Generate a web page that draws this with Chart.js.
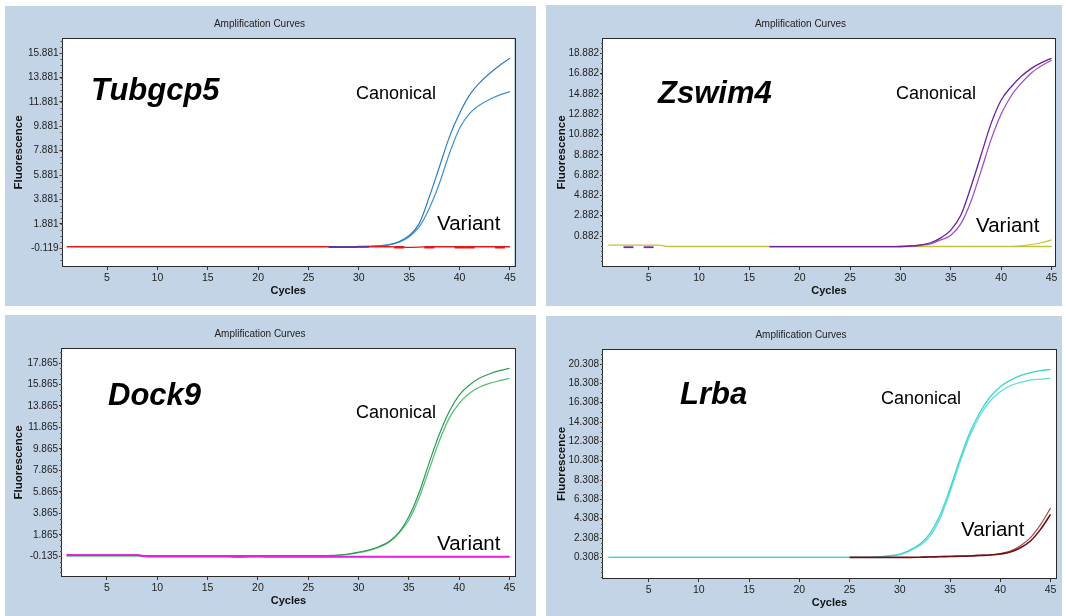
<!DOCTYPE html>
<html lang="en">
<head>
<meta charset="UTF-8">
<title>Amplification Curves</title>
<script src="https://cdn.jsdelivr.net/npm/chart.js"></script>
<style>
  body { margin: 0; background: #fff; width: 1066px; height: 616px; position: relative; overflow: hidden; }
  .panel { position: absolute; background: #c3d4e6; }
  .panel canvas { position: absolute; left: 0; top: 0; }
  .note { position: absolute; font-family: "Liberation Sans", Arial, sans-serif; color: #000; line-height: 1; transform: translateY(-50%); white-space: nowrap; }
  .gene { font-weight: bold; font-style: italic; font-size: 31px; }
  .canon { font-size: 18px; }
  .variant { font-size: 20.5px; }
</style>
</head>
<body>

<div class="panel" style="left:5px;top:6px;width:531px;height:300px">
  <canvas id="tubChart" width="531" height="300"></canvas>
  <div class="note gene" style="left:86px;top:83px">Tubgcp5</div>
  <div class="note canon" style="left:351px;top:87px">Canonical</div>
  <div class="note variant" style="left:432px;top:217px">Variant</div>
</div>

<div class="panel" style="left:546px;top:5px;width:516px;height:301px">
  <canvas id="zswChart" width="516" height="301"></canvas>
  <div class="note gene" style="left:112px;top:87px">Zswim4</div>
  <div class="note canon" style="left:350px;top:88px">Canonical</div>
  <div class="note variant" style="left:430px;top:220px">Variant</div>
</div>

<div class="panel" style="left:5px;top:315px;width:531px;height:301px">
  <canvas id="dockChart" width="531" height="301"></canvas>
  <div class="note gene" style="left:103px;top:79px">Dock9</div>
  <div class="note canon" style="left:351px;top:97px">Canonical</div>
  <div class="note variant" style="left:432px;top:228px">Variant</div>
</div>

<div class="panel" style="left:546px;top:316px;width:516px;height:300px">
  <canvas id="lrbChart" width="516" height="300"></canvas>
  <div class="note gene" style="left:134px;top:77px">Lrba</div>
  <div class="note canon" style="left:335px;top:82px">Canonical</div>
  <div class="note variant" style="left:415px;top:213px">Variant</div>
</div>

<script>
// x axis ticks shared by all four plots
const cycleTicks = [5, 10, 15, 20, 25, 30, 35, 40, 45];

// --- Tubgcp5 ---
const tubTicks = [-0.119, 1.881, 3.881, 5.881, 7.881, 9.881, 11.881, 13.881, 15.881];
const tubCanonHighStart = 30;
const tubCanonHigh = [0.00, 0.03, 0.08, 0.17, 0.42, 0.92, 1.92, 4.11, 6.57, 9.04, 10.95, 12.46, 13.47, 14.24, 14.90, 15.47];
const tubCanonLowStart = 30;
const tubCanonLow = [0.00, 0.02, 0.07, 0.15, 0.38, 0.82, 1.65, 3.16, 5.21, 7.67, 9.72, 10.95, 11.64, 12.10, 12.46, 12.73];
const tubOtherStart = 27;
const tubOther = [-0.02, -0.02, -0.02, -0.01, 0.00];
const tubVariantStart = 1;
const tubVariant = [0, 0, 0, 0, 0, 0, 0, 0, 0, 0, 0, 0, 0, 0, 0, 0, 0, 0, 0, 0, 0, 0, 0, 0, 0, 0, 0, 0, 0, 0, 0, 0, 0,
  -0.02, -0.05, -0.03, 0, 0, 0, 0, 0, 0, 0, 0, 0];
const tubBlipCycles = [34, 37, 40, 41, 44];
const tubBlipValues = [-0.05, -0.05, -0.04, -0.04, -0.05];

// --- Zswim4 ---
const zswTicks = [0.882, 2.882, 4.882, 6.882, 8.882, 10.882, 12.882, 14.882, 16.882, 18.882];
const zswCanonEarlyStart = 17;
const zswCanonEarly = [-0.17, -0.17, -0.17, -0.17, -0.17, -0.17, -0.17, -0.17, -0.17, -0.17, -0.17, -0.17, -0.17,
  -0.15, -0.10, 0.00, 0.22, 0.70, 1.47, 2.95, 5.74, 8.86, 11.98, 14.28, 15.59, 16.62, 17.40, 17.96, 18.39];
const zswCanonLateStart = 17;
const zswCanonLate = [-0.17, -0.17, -0.17, -0.17, -0.17, -0.17, -0.17, -0.17, -0.17, -0.17, -0.17, -0.17, -0.17,
  -0.16, -0.12, -0.04, 0.12, 0.50, 0.95, 2.10, 4.30, 7.30, 10.40, 12.90, 14.70, 15.95, 16.95, 17.65, 18.20];
const zswVariantFlatStart = 1;
const zswVariantFlat = [-0.02, -0.02, -0.02, -0.02, -0.02, -0.02,
  -0.15, -0.15, -0.15, -0.15, -0.15, -0.15, -0.15, -0.15, -0.15, -0.15, -0.15, -0.15, -0.15, -0.15, -0.15, -0.15, -0.15,
  -0.15, -0.15, -0.15, -0.15, -0.15, -0.15, -0.15, -0.15, -0.15, -0.15, -0.15, -0.15, -0.15, -0.15, -0.15, -0.15, -0.15,
  -0.15, -0.15, -0.15, -0.15, -0.15];
const zswVariantRiseStart = 41;
const zswVariantRise = [-0.15, -0.08, 0.05, 0.22, 0.50];
const zswBlipCycles = [3, 5];
const zswBlipValues = [-0.22, -0.22];

// --- Dock9 ---
const dockTicks = [-0.135, 1.865, 3.865, 5.865, 7.865, 9.865, 11.865, 13.865, 15.865, 17.865];
const dockCanonHighStart = 1;
const dockCanonHigh = [-0.08, -0.08, -0.08, -0.08, -0.08, -0.08, -0.08, -0.08, -0.08, -0.08, -0.08, -0.08, -0.08,
  -0.08, -0.08, -0.08, -0.08, -0.08, -0.08, -0.08, -0.08, -0.08, -0.08, -0.08, -0.08, -0.08,
  -0.06, -0.02, 0.08, 0.25, 0.45, 0.76, 1.23, 2.07, 3.55, 5.73, 8.52, 11.16, 13.33, 14.88, 15.80, 16.44, 16.84, 17.15, 17.37];
const dockCanonLowStart = 1;
const dockCanonLow = [-0.10, -0.10, -0.10, -0.10, -0.10, -0.10, -0.10, -0.10, -0.10, -0.10, -0.10, -0.10, -0.10,
  -0.10, -0.10, -0.10, -0.10, -0.10, -0.10, -0.10, -0.10, -0.10, -0.10, -0.10, -0.10, -0.10,
  -0.08, -0.04, 0.05, 0.20, 0.40, 0.70, 1.15, 2.00, 3.24, 5.27, 7.90, 10.54, 12.71, 14.11, 15.03, 15.60, 15.97, 16.22, 16.44];
const dockVariantAStart = 1;
const dockVariantA = [0.02, -0.02, -0.02, -0.02, -0.02, -0.02, -0.02, -0.02,
  -0.13, -0.13, -0.13, -0.13, -0.13, -0.13, -0.13, -0.13, -0.13, -0.20, -0.16, -0.12,
  -0.17, -0.17, -0.17, -0.17, -0.17, -0.17, -0.17, -0.17, -0.17, -0.17, -0.17, -0.17, -0.17,
  -0.17, -0.17, -0.17, -0.17, -0.17, -0.17, -0.17, -0.17, -0.17, -0.17, -0.17, -0.17];
const dockVariantBStart = 1;
const dockVariantB = [-0.03, -0.03, -0.03, -0.03, -0.03, -0.03, -0.03, -0.03,
  -0.18, -0.18, -0.18, -0.18, -0.18, -0.18, -0.18, -0.18, -0.18, -0.18, -0.18, -0.18, -0.18,
  -0.18, -0.18, -0.18, -0.18, -0.18, -0.18, -0.18, -0.18, -0.18, -0.18, -0.18, -0.18, -0.18,
  -0.18, -0.18, -0.18, -0.18, -0.18, -0.18, -0.18, -0.18, -0.18, -0.18, -0.18];

// --- Lrba ---
const lrbTicks = [0.308, 2.308, 4.308, 6.308, 8.308, 10.308, 12.308, 14.308, 16.308, 18.308, 20.308];
const lrbCanonHighStart = 1;
const lrbCanonHigh = [0.31, 0.31, 0.31, 0.31, 0.31, 0.31, 0.31, 0.31, 0.31, 0.31, 0.31, 0.31, 0.31, 0.31,
  0.31, 0.31, 0.31, 0.31, 0.31, 0.31, 0.31, 0.31, 0.31, 0.31, 0.31, 0.31, 0.31,
  0.38, 0.48, 0.65, 1.06, 1.68, 2.79, 4.68, 7.45, 10.55, 13.30, 15.37, 16.92, 17.96, 18.65, 19.10, 19.41, 19.62, 19.76];
const lrbCanonLowStart = 1;
const lrbCanonLow = [0.30, 0.30, 0.30, 0.30, 0.30, 0.30, 0.30, 0.30, 0.30, 0.30, 0.30, 0.30, 0.30, 0.30,
  0.30, 0.30, 0.30, 0.30, 0.30, 0.30, 0.30, 0.30, 0.30, 0.30, 0.30, 0.30, 0.30,
  0.36, 0.45, 0.60, 0.98, 1.55, 2.51, 4.34, 7.10, 10.20, 12.96, 15.03, 16.51, 17.44, 18.06, 18.41, 18.65, 18.75, 18.83];
const lrbVariantAStart = 25;
const lrbVariantA = [0.30, 0.30, 0.30, 0.30, 0.30, 0.30, 0.30,
  0.32, 0.35, 0.37, 0.40, 0.42, 0.45, 0.50, 0.55, 0.65, 0.85, 1.30, 2.00, 3.20, 4.75];
const lrbVariantBStart = 32;
const lrbVariantB = [0.33, 0.37, 0.40, 0.42, 0.45, 0.48, 0.53, 0.57, 0.70, 0.95, 1.50, 2.35, 3.70, 5.40];

const sans = '"Liberation Sans", Arial, sans-serif';

function trace(start, values, color, width) {
  return {
    data: values.map((v, i) => ({ x: start + i, y: v })),
    borderColor: color,
    borderWidth: width || 1.2,
    pointRadius: 0,
    cubicInterpolationMode: 'monotone',
    fill: false
  };
}

function blips(cyc, values, color, width) {
  return {
    data: cyc.map((c, i) => ({ x: c, y: values[i] })),
    showLine: false,
    pointStyle: 'line',
    pointRadius: 5,
    pointBorderWidth: width,
    pointBorderColor: color,
    borderColor: color
  };
}

// white plot area, frame and minor y ticks
const framePlugin = {
  id: 'frame',
  beforeDraw(chart) {
    const a = chart.chartArea, ctx = chart.ctx;
    ctx.save();
    ctx.fillStyle = '#fff';
    ctx.fillRect(a.left, a.top, a.right - a.left, a.bottom - a.top);
    ctx.restore();
  },
  afterDraw(chart) {
    const a = chart.chartArea, ctx = chart.ctx, y = chart.scales.y;
    ctx.save();
    ctx.strokeStyle = '#2a2a2a';
    ctx.lineWidth = 1;
    ctx.strokeRect(Math.round(a.left) - 0.5, Math.round(a.top) - 0.5, Math.round(a.right - a.left) + 1, Math.round(a.bottom - a.top) + 1);
    ctx.strokeStyle = '#555';
    const first = y.ticks[0].value;
    let v = first - Math.floor((first - y.min) / 0.5) * 0.5;
    ctx.beginPath();
    for (; v <= y.max; v += 0.5) {
      const p = Math.round(y.getPixelForValue(v)) + 0.5;
      ctx.moveTo(a.left - 2, p);
      ctx.lineTo(a.left, p);
    }
    ctx.stroke();
    ctx.restore();
  }
};

function makeChart(id, g) {
  const yTitleLine = 11.5 * 1.2;
  new Chart(document.getElementById(id), {
    type: 'line',
    data: { datasets: g.datasets },
    plugins: [framePlugin],
    options: {
      responsive: false,
      animation: false,
      events: [],
      layout: { padding: { left: 0, right: g.padRight, top: 0, bottom: 0 } },
      plugins: {
        legend: { display: false },
        tooltip: { enabled: false },
        title: {
          display: true,
          text: 'Amplification Curves',
          color: '#222',
          font: { family: sans, size: 10, weight: 'normal' },
          padding: { top: g.titleY - 6, bottom: g.plotTop - g.titleY - 6 }
        }
      },
      scales: {
        x: {
          type: 'linear',
          min: g.xMin,
          max: g.xMax,
          afterBuildTicks: s => { s.ticks = cycleTicks.map(v => ({ value: v })); },
          afterFit: s => { s.height = g.xHeight; },
          grid: { drawOnChartArea: false, drawTicks: true, tickLength: 4, color: '#333' },
          border: { display: false },
          ticks: { color: '#222', font: { family: sans, size: 10.5 }, padding: 2, maxRotation: 0, autoSkip: false },
          title: {
            display: true, text: 'Cycles', color: '#111',
            font: { family: sans, size: 11, weight: 'bold' },
            padding: { top: 0, bottom: g.xHeight - 25 - 6.6 }
          }
        },
        y: {
          type: 'linear',
          min: g.yMin,
          max: g.yMax,
          afterBuildTicks: s => { s.ticks = g.yTicks.map(v => ({ value: v })); },
          afterFit: s => { s.width = g.plotLeft; },
          grid: { drawOnChartArea: false, drawTicks: true, tickLength: 3, color: '#333' },
          border: { display: false },
          ticks: { color: '#222', font: { family: sans, size: 10 }, padding: 1, autoSkip: false, callback: v => v.toFixed(3) },
          title: {
            display: true, text: 'Fluorescence', color: '#111',
            font: { family: sans, size: 11.5, weight: 'bold' },
            padding: { top: g.yTitleX - yTitleLine / 2, bottom: 0 }
          }
        }
      }
    }
  });
}

makeChart('tubChart', {
  plotLeft: 57.5, plotTop: 33, padRight: 22, xHeight: 40, titleY: 18, yTitleX: 14,
  xMin: 0.58, xMax: 45.4, yMin: -1.58, yMax: 17.05, yTicks: tubTicks,
  datasets: [
    blips(tubBlipCycles, tubBlipValues, '#e01818', 2.5),
    trace(tubOtherStart, tubOther, '#5a3c9c', 2),
    trace(tubVariantStart, tubVariant, '#e01818', 1.3),
    trace(tubCanonHighStart, tubCanonHigh, '#2f7dbd'),
    trace(tubCanonLowStart, tubCanonLow, '#3f93cc')
  ]
});

makeChart('zswChart', {
  plotLeft: 57, plotTop: 34, padRight: 7, xHeight: 40, titleY: 19, yTitleX: 16,
  xMin: 0.47, xMax: 45.34, yMin: -2.07, yMax: 20.29, yTicks: zswTicks,
  datasets: [
    blips(zswBlipCycles, zswBlipValues, '#7a2a9a', 1.8),
    trace(zswCanonEarlyStart, zswCanonEarly, '#6c2296', 1.3),
    trace(zswCanonLateStart, zswCanonLate, '#a050c4', 1.3),
    trace(zswVariantRiseStart, zswVariantRise, '#c2c23c', 1.2),
    trace(zswVariantFlatStart, zswVariantFlat, '#c2c23c', 1.3)
  ]
});

makeChart('dockChart', {
  plotLeft: 57, plotTop: 34, padRight: 21, xHeight: 40, titleY: 19, yTitleX: 14,
  xMin: 0.53, xMax: 45.55, yMin: -1.97, yMax: 19.17, yTicks: dockTicks,
  datasets: [
    trace(dockVariantAStart, dockVariantA, '#e41ee0', 1.6),
    trace(dockVariantBStart, dockVariantB, '#d81cd4', 1.6),
    trace(dockCanonHighStart, dockCanonHigh, '#2f9a58'),
    trace(dockCanonLowStart, dockCanonLow, '#52c070')
  ]
});

makeChart('lrbChart', {
  plotLeft: 57, plotTop: 34, padRight: 6, xHeight: 38, titleY: 19, yTitleX: 16,
  xMin: 0.46, xMax: 45.54, yMin: -1.83, yMax: 21.76, yTicks: lrbTicks,
  datasets: [
    trace(lrbVariantAStart, lrbVariantA, '#6b0f12', 1.6),
    trace(lrbVariantBStart, lrbVariantB, '#a05050', 1.2),
    trace(lrbCanonHighStart, lrbCanonHigh, '#3fd4d0', 1.3),
    trace(lrbCanonLowStart, lrbCanonLow, '#5fdcdc', 1.3)
  ]
});
</script>
</body>
</html>
